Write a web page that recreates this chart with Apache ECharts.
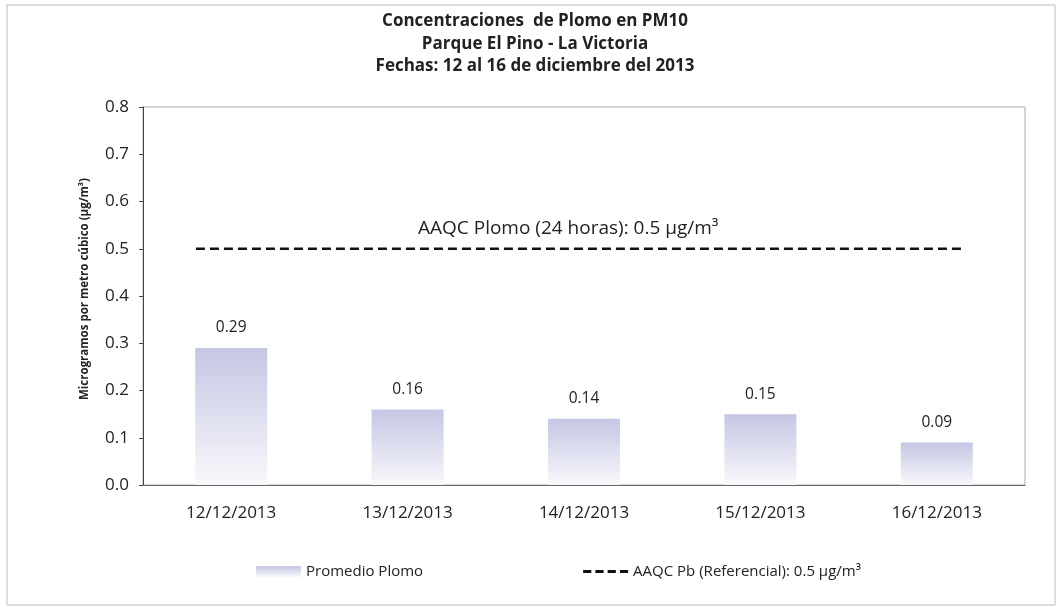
<!DOCTYPE html>
<html>
<head>
<meta charset="utf-8">
<script src="https://cdn.jsdelivr.net/npm/echarts@6/dist/echarts.min.js"></script>
<style>
html,body{margin:0;padding:0;background:#fff;}
#c{width:1060px;height:609px;}
</style>
</head>
<body>
<div id="c"></div>
<script>
var categories = ['12/12/2013','13/12/2013','14/12/2013','15/12/2013','16/12/2013'];
var promedioPlomo = [0.29, 0.16, 0.14, 0.15, 0.09];
var limitLine = [[-0.2, 0.5], [4.16, 0.5]];
var yTicks = [0, 0.1, 0.2, 0.3, 0.4, 0.5, 0.6, 0.7, 0.8];

var font = '"Open Sans", Lato, sans-serif';
var chart = echarts.init(document.getElementById('c'), null, {renderer: 'canvas'});
chart.setOption({
  animation: false,
  backgroundColor: '#fff',
  title: {
    text: 'Concentraciones  de Plomo en PM10\nParque El Pino - La Victoria\nFechas: 12 al 16 de diciembre del 2013',
    left: 530, top: 5, textAlign: 'center',
    textStyle: {fontFamily: font, fontSize: 17, fontWeight: 'bold', color: '#222', lineHeight: 22.5}
  },
  legend: {
    bottom: 25, left: 251, itemGap: 160, itemWidth: 45, itemHeight: 11,
    textStyle: {fontFamily: font, fontSize: 15, color: '#222'},
    data: [
      {name: 'Promedio Plomo', icon: 'rect'},
      {name: 'AAQC Pb (Referencial): 0.5 µg/m³',
       icon: 'path://M0,0h8v3h-8z M12,0h8v3h-8z M24,0h8v3h-8z M36,0h8v3h-8z',
       itemStyle: {color: '#111'}}
    ]
  },
  grid: {left: 143, right: 35, top: 107, bottom: 124, show: true, borderColor: '#aaa', borderWidth: 1},
  xAxis: [{
    type: 'category', data: categories,
    axisLine: {show: true, lineStyle: {color: '#666'}},
    axisTick: {show: false},
    axisLabel: {fontFamily: font, fontSize: 17, color: '#222', margin: 20}
  }, {
    type: 'value', min: -0.5, max: 4.5, show: false
  }],
  yAxis: {
    type: 'value', min: 0, max: 0.8, interval: 0.1,
    name: 'Microgramos por metro cúbico (µg/m³)',
    nameLocation: 'middle', nameGap: 52, nameRotate: 90,
    nameTextStyle: {fontFamily: font, fontSize: 11.5, fontWeight: 'bold', color: '#222', padding: [0, 0, 0, 14]},
    axisLine: {show: true, onZero: false, lineStyle: {color: '#444'}},
    axisTick: {show: true, inside: false, length: 4, lineStyle: {color: '#444'}},
    splitLine: {show: false},
    axisLabel: {fontFamily: font, fontSize: 17, color: '#222', margin: 14,
      formatter: function (v) { return v.toFixed(1); }}
  },
  series: [{
    name: 'Promedio Plomo', type: 'bar', data: promedioPlomo, barWidth: 72,
    itemStyle: {color: new echarts.graphic.LinearGradient(0, 0, 0, 1, [
      {offset: 0, color: '#c5c6e3'}, {offset: 1, color: '#f8f8fc'}])},
    label: {show: true, position: 'top', distance: 12, fontFamily: font, fontSize: 15.5, color: '#222',
      formatter: function (p) { return p.value.toFixed(2); }}
  }, {
    name: 'AAQC Pb (Referencial): 0.5 µg/m³', type: 'line', xAxisIndex: 1,
    data: limitLine, symbol: 'none',
    lineStyle: {color: '#111', width: 2.5, type: [9, 5]},
    itemStyle: {color: '#111'},
    label: {show: false}
  }],
  graphic: [{
    type: 'text', left: 418, top: 219,
    style: {text: 'AAQC Plomo (24 horas): 0.5 µg/m³', fontFamily: font, fontSize: 19, fill: '#222'}
  }, {
    type: 'rect', shape: {x: 7, y: 5, width: 1048, height: 600},
    style: {fill: 'none', stroke: '#bbb', lineWidth: 1}, silent: true
  }]
});
</script>
</body>
</html>
